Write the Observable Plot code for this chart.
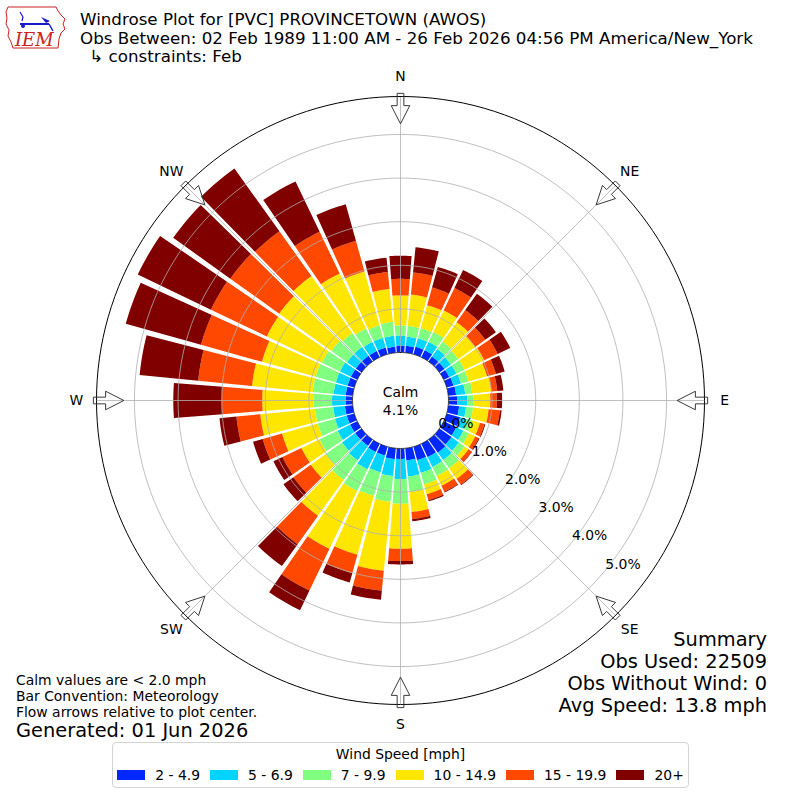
<!DOCTYPE html>
<html><head><meta charset="utf-8">
<script src="https://cdn.jsdelivr.net/npm/d3@7"></script>
<script src="https://cdn.jsdelivr.net/npm/@observablehq/plot@0.6"></script>
<style>
body{margin:0;background:#fff;font-family:"DejaVu Sans",sans-serif;color:#000;}
#wrap{position:relative;width:800px;height:800px;overflow:hidden;background:#fff;}
#chart{position:absolute;left:0;top:0;}
.t{position:absolute;white-space:pre;}
.title{font-size:16.7px;line-height:19px;left:80px;}
.note{font-size:13.9px;line-height:16px;left:16px;}
.sum{font-size:19.4px;line-height:22px;right:33px;text-align:right;}
#legend{position:absolute;left:112px;top:742px;width:577px;height:46px;border:1px solid #d4d4d4;border-radius:4px;box-sizing:border-box;background:#fff;font-size:13.9px;white-space:nowrap;}
#legend .lt{text-align:center;line-height:16px;margin-top:3px;}
#legend .items{display:flex;justify-content:center;align-items:center;line-height:16px;margin-top:5px;}
#legend .sw{display:inline-block;width:28px;height:10px;margin-right:10px;flex:none;}
#legend .it{display:flex;align-items:center;margin:0 5px;white-space:nowrap;flex:none;}
</style></head><body>
<div id="wrap">
  <div id="chart"></div>
  <svg class="t" style="left:3px;top:3px" width="66" height="50" viewBox="0 0 66 50">
    <path d="M5,4 L53,4 L55,8 L58,12 L62,16 L60,21 L62,26 L58,30 L56,36 L55,45 L10,45 L8,39 L5,33 L6,27 L3,21 L4,15 L3,9 Z" fill="none" stroke="#cc2222" stroke-width="1"/>
    <line x1="17" y1="21" x2="46" y2="21" stroke="#1a1acc" stroke-width="2"/>
    <line x1="46" y1="21" x2="50" y2="28" stroke="#1a1acc" stroke-width="1.5"/>
    <path d="M38,14 L47,18 L43,20 Z" fill="#1a1acc"/>
    <circle cx="20" cy="23" r="2" fill="#1a1acc"/>
    <path d="M17,9 L20,14 L19,18" fill="none" stroke="#1a1acc" stroke-width="1.2"/>
    <text x="12" y="43" font-family="DejaVu Serif, serif" font-style="italic" font-size="18" fill="#cc2222">IEM</text>
  </svg>
  <div class="t title" style="top:10px">Windrose Plot for [PVC] PROVINCETOWN (AWOS)</div>
  <div class="t title" style="top:28.5px">Obs Between: 02 Feb 1989 11:00 AM - 26 Feb 2026 04:56 PM America/New_York</div>
  <div class="t title" style="top:47px;left:84px"> ↳ constraints: Feb</div>
  <div class="t note" style="top:672px">Calm values are &lt; 2.0 mph</div>
  <div class="t note" style="top:688px">Bar Convention: Meteorology</div>
  <div class="t note" style="top:704px">Flow arrows relative to plot center.</div>
  <div class="t note" style="top:721px;font-size:19.4px;line-height:19px">Generated: 01 Jun 2026</div>
  <div class="t sum" style="top:629px">Summary</div>
  <div class="t sum" style="top:651px">Obs Used: 22509</div>
  <div class="t sum" style="top:673px">Obs Without Wind: 0</div>
  <div class="t sum" style="top:695px">Avg Speed: 13.8 mph</div>
  <div id="legend"><div class="lt">Wind Speed [mph]</div><div class="items" id="items"></div></div>
</div>
<script>
// ---- data ----
const directions = [0,10,20,30,40,50,60,70,80,90,100,110,120,130,140,150,160,170,180,190,200,210,220,230,240,250,260,270,280,290,300,310,320,330,340,350];
const speedBins = ["2 - 4.9","5 - 6.9","7 - 9.9","10 - 14.9","15 - 19.9","20+"];
const binColors = ["#0028ff","#00d4ff","#80ff80","#ffe600","#ff4800","#800000"];
// percent of observations per direction, by speed bin
const pct_2_5   = [0.16,0.16,0.18,0.18,0.14,0.14,0.14,0.16,0.18,0.20,0.25,0.32,0.32,0.34,0.37,0.34,0.32,0.28,0.24,0.25,0.21,0.21,0.18,0.18,0.18,0.18,0.18,0.16,0.16,0.16,0.16,0.16,0.16,0.16,0.16,0.14];
const pct_5_7   = [0.23,0.21,0.20,0.21,0.21,0.18,0.18,0.18,0.21,0.23,0.16,0.16,0.18,0.21,0.21,0.25,0.30,0.37,0.46,0.39,0.40,0.44,0.41,0.37,0.32,0.28,0.27,0.31,0.28,0.28,0.28,0.25,0.25,0.23,0.23,0.25];
const pct_7_10  = [0.23,0.25,0.24,0.25,0.21,0.21,0.21,0.18,0.16,0.15,0.16,0.13,0.14,0.16,0.23,0.23,0.28,0.35,0.57,0.59,0.56,0.55,0.55,0.46,0.46,0.41,0.42,0.42,0.48,0.48,0.46,0.44,0.39,0.34,0.30,0.32];
const pct_10_15 = [0.69,0.72,0.55,0.55,0.55,0.48,0.50,0.44,0.44,0.38,0.36,0.18,0.16,0.11,0.30,0.25,0.23,0.47,1.03,1.59,1.40,1.47,1.01,0.42,0.46,0.85,1.26,1.18,1.40,1.28,1.40,1.47,1.61,1.40,1.28,0.76];
const pct_15_20 = [0.38,0.51,0.42,0.57,0.34,0.28,0.34,0.21,0.14,0.15,0.26,0.11,0.09,0.09,0.16,0.15,0.14,0.16,0.28,0.46,0.44,1.06,0.80,0.49,0.48,0.46,0.55,0.92,1.24,1.45,1.42,1.38,1.26,1.06,0.73,0.39];
const pct_20p   = [0.53,0.58,0.49,0.46,0.46,0.30,0.32,0.21,0.14,0.12,0.04,0.02,0.02,0.01,0.02,0.02,0.03,0.05,0.08,0.21,0.22,0.50,0.62,0.28,0.23,0.23,0.39,1.12,1.35,1.79,1.86,1.61,1.77,1.28,0.87,0.33];
const calmPct = 4.1;
const ringTicks = [0,1,2,3,4,5];
const compassLabels = ["N","NE","E","SE","S","SW","W","NW"];
const compassDegrees = [0,45,90,135,180,225,270,315];

// ---- geometry ----
const calmHole = 1.1;      // radius of calm hole, in % units
const rMaxPct = 5.87;      // outer ring value
const U = calmHole + rMaxPct;
const halfWidth = 4.4;     // degrees
const ringLabelAngle = 130;
const rad = d => d*Math.PI/180;
const px = (deg,u) => u*Math.sin(rad(deg));
const py = (deg,u) => u*Math.cos(rad(deg));

const series = [pct_2_5, pct_5_7, pct_7_10, pct_10_15, pct_15_20, pct_20p];
const barRows = [];
directions.forEach((dir,i) => {
  let cum = 0;
  series.forEach((s,j) => {
    const u0 = calmHole + cum; cum += s[i]; const u1 = calmHole + cum;
    const key = dir + "-" + j, n = 8;
    for (let k=0;k<=n;k++){ const a = dir - halfWidth + 2*halfWidth*k/n; barRows.push({x:px(a,u1), y:py(a,u1), key, bin:speedBins[j]}); }
    for (let k=n;k>=0;k--){ const a = dir - halfWidth + 2*halfWidth*k/n; barRows.push({x:px(a,u0), y:py(a,u0), key, bin:speedBins[j]}); }
  });
});
const circle = (u,key) => d3.range(0,361,2).map(a => ({x:px(a,u), y:py(a,u), key}));
const ringRows = ringTicks.filter(t => t>0).flatMap(t => circle(calmHole+t, "r"+t));

// flow arrows (shape in fractions of outer radius)
const arrowShape = [[1.009,-0.011],[0.970,-0.011],[0.970,-0.0305],[0.910,0],[0.970,0.0305],[0.970,0.011],[1.009,0.011]];
const arrowRows = compassDegrees.flatMap(d => arrowShape.map(([t,s]) => ({
  x: U*(t*Math.sin(rad(d)) + s*Math.cos(rad(d))),
  y: U*(t*Math.cos(rad(d)) - s*Math.sin(rad(d))),
  key: "a"+d
})));

const chart = Plot.plot({
  width: 800, height: 800, margin: 0,
  x: {domain: [-U, U], range: [96, 704], axis: null},
  y: {domain: [-U, U], range: [704, 96], axis: null},
  color: {domain: speedBins, range: binColors},
  style: {fontFamily: "DejaVu Sans", background: "transparent"},
  marks: [
    Plot.line(barRows, {x:"x", y:"y", z:"key", fill:"bin", stroke:"none", curve:"linear-closed"}),
    Plot.line(ringRows, {x:"x", y:"y", z:"key", stroke:"#b0b0b0", strokeWidth:0.8}),
    Plot.link(compassDegrees, {x1:() => 0, y1:() => 0, x2:d => px(d,U), y2:d => py(d,U), stroke:"#b0b0b0", strokeWidth:0.8}),
    Plot.line(circle(calmHole,"calm"), {x:"x", y:"y", z:"key", fill:"white", stroke:"#111", strokeWidth:0.8, curve:"linear-closed"}),
    Plot.line(circle(U,"outer"), {x:"x", y:"y", z:"key", stroke:"#000", strokeWidth:1}),
    Plot.line(arrowRows, {x:"x", y:"y", z:"key", fill:"none", stroke:"#3a3a3a", strokeWidth:1, curve:"linear-closed"}),
    Plot.text(compassDegrees, {x:d => px(d,U*1.066), y:d => py(d,U*1.066), text:(d,i) => compassLabels[i], fontSize:13.9, textAnchor:"middle", lineAnchor:"middle"}),
    Plot.text(ringTicks, {x:t => px(ringLabelAngle, calmHole+t), y:t => py(ringLabelAngle, calmHole+t), text:t => t.toFixed(1)+"%", fontSize:13.9, textAnchor:"start", lineAnchor:"bottom", dx:1, dy:-3}),
    Plot.text([calmPct], {x:() => 0, y:() => 0, text:p => "Calm\n" + p.toFixed(1) + "%", fontSize:13.9, lineHeight:1.25, textAnchor:"middle", lineAnchor:"middle"})
  ]
});
document.getElementById("chart").appendChild(chart);

const items = document.getElementById("items");
speedBins.forEach((b,i) => {
  const it = document.createElement("div"); it.className = "it";
  const sw = document.createElement("span"); sw.className = "sw"; sw.style.background = binColors[i];
  const lb = document.createElement("span"); lb.textContent = b;
  it.appendChild(sw); it.appendChild(lb); items.appendChild(it);
});
</script>
</body></html>
